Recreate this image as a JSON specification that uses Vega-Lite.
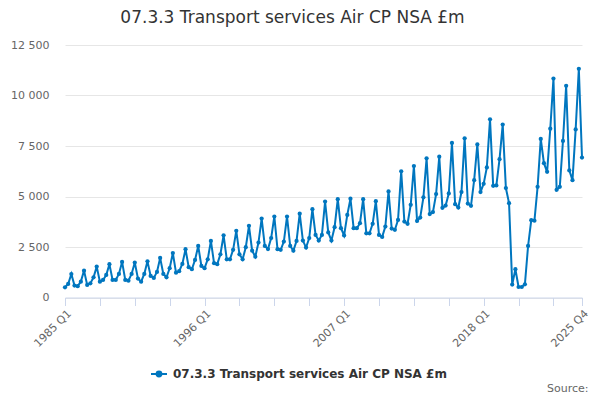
{
  "$schema": "https://vega.github.io/schema/vega-lite/v6.json",
  "autosize": "none",
  "width": 517,
  "height": 252.5,
  "padding": {"left": 65, "top": 45, "right": 18, "bottom": 102.5},
  "background": "white",
  "title": {
    "text": "07.3.3 Transport services Air CP NSA £m",
    "font": "DejaVu Sans",
    "fontSize": 17,
    "fontWeight": "normal",
    "color": "#333333",
    "anchor": "middle",
    "dx": -31,
    "offset": 12
  },
  "config": {
    "view": {"stroke": null},
    "font": "DejaVu Sans"
  },
  "data": {
    "values": [
      {"period": "1985 Q1", "value": 505}, {"period": "1985 Q2", "value": 670}, {"period": "1985 Q3", "value": 1160}, {"period": "1985 Q4", "value": 590},
      {"period": "1986 Q1", "value": 560}, {"period": "1986 Q2", "value": 785}, {"period": "1986 Q3", "value": 1330}, {"period": "1986 Q4", "value": 620},
      {"period": "1987 Q1", "value": 700}, {"period": "1987 Q2", "value": 1000}, {"period": "1987 Q3", "value": 1530}, {"period": "1987 Q4", "value": 785},
      {"period": "1988 Q1", "value": 870}, {"period": "1988 Q2", "value": 1115}, {"period": "1988 Q3", "value": 1650}, {"period": "1988 Q4", "value": 870},
      {"period": "1989 Q1", "value": 870}, {"period": "1989 Q2", "value": 1165}, {"period": "1989 Q3", "value": 1760}, {"period": "1989 Q4", "value": 870},
      {"period": "1990 Q1", "value": 835}, {"period": "1990 Q2", "value": 1165}, {"period": "1990 Q3", "value": 1730}, {"period": "1990 Q4", "value": 935},
      {"period": "1991 Q1", "value": 785}, {"period": "1991 Q2", "value": 1165}, {"period": "1991 Q3", "value": 1790}, {"period": "1991 Q4", "value": 1070},
      {"period": "1992 Q1", "value": 970}, {"period": "1992 Q2", "value": 1265}, {"period": "1992 Q3", "value": 1960}, {"period": "1992 Q4", "value": 1165},
      {"period": "1993 Q1", "value": 1000}, {"period": "1993 Q2", "value": 1450}, {"period": "1993 Q3", "value": 2200}, {"period": "1993 Q4", "value": 1230},
      {"period": "1994 Q1", "value": 1300}, {"period": "1994 Q2", "value": 1660}, {"period": "1994 Q3", "value": 2390}, {"period": "1994 Q4", "value": 1500},
      {"period": "1995 Q1", "value": 1400}, {"period": "1995 Q2", "value": 1860}, {"period": "1995 Q3", "value": 2550}, {"period": "1995 Q4", "value": 1560},
      {"period": "1996 Q1", "value": 1450}, {"period": "1996 Q2", "value": 1890}, {"period": "1996 Q3", "value": 2800}, {"period": "1996 Q4", "value": 1700},
      {"period": "1997 Q1", "value": 1650}, {"period": "1997 Q2", "value": 2140}, {"period": "1997 Q3", "value": 3080}, {"period": "1997 Q4", "value": 1890},
      {"period": "1998 Q1", "value": 1890}, {"period": "1998 Q2", "value": 2360}, {"period": "1998 Q3", "value": 3300}, {"period": "1998 Q4", "value": 2140},
      {"period": "1999 Q1", "value": 1890}, {"period": "1999 Q2", "value": 2490}, {"period": "1999 Q3", "value": 3550}, {"period": "1999 Q4", "value": 2320},
      {"period": "2000 Q1", "value": 2020}, {"period": "2000 Q2", "value": 2720}, {"period": "2000 Q3", "value": 3910}, {"period": "2000 Q4", "value": 2550},
      {"period": "2001 Q1", "value": 2400}, {"period": "2001 Q2", "value": 2940}, {"period": "2001 Q3", "value": 4010}, {"period": "2001 Q4", "value": 2390},
      {"period": "2002 Q1", "value": 2360}, {"period": "2002 Q2", "value": 2770}, {"period": "2002 Q3", "value": 4010}, {"period": "2002 Q4", "value": 2550},
      {"period": "2003 Q1", "value": 2320}, {"period": "2003 Q2", "value": 2800}, {"period": "2003 Q3", "value": 4150}, {"period": "2003 Q4", "value": 2820},
      {"period": "2004 Q1", "value": 2470}, {"period": "2004 Q2", "value": 2940}, {"period": "2004 Q3", "value": 4370}, {"period": "2004 Q4", "value": 3100},
      {"period": "2005 Q1", "value": 2820}, {"period": "2005 Q2", "value": 3100}, {"period": "2005 Q3", "value": 4750}, {"period": "2005 Q4", "value": 3220},
      {"period": "2006 Q1", "value": 2820}, {"period": "2006 Q2", "value": 3480}, {"period": "2006 Q3", "value": 4870}, {"period": "2006 Q4", "value": 3430},
      {"period": "2007 Q1", "value": 3070}, {"period": "2007 Q2", "value": 4090}, {"period": "2007 Q3", "value": 4890}, {"period": "2007 Q4", "value": 3430},
      {"period": "2008 Q1", "value": 3430}, {"period": "2008 Q2", "value": 3680}, {"period": "2008 Q3", "value": 4870}, {"period": "2008 Q4", "value": 3180},
      {"period": "2009 Q1", "value": 3180}, {"period": "2009 Q2", "value": 3650}, {"period": "2009 Q3", "value": 4770}, {"period": "2009 Q4", "value": 3100},
      {"period": "2010 Q1", "value": 3000}, {"period": "2010 Q2", "value": 3510}, {"period": "2010 Q3", "value": 5250}, {"period": "2010 Q4", "value": 3410},
      {"period": "2011 Q1", "value": 3350}, {"period": "2011 Q2", "value": 3840}, {"period": "2011 Q3", "value": 6250}, {"period": "2011 Q4", "value": 3760},
      {"period": "2012 Q1", "value": 3650}, {"period": "2012 Q2", "value": 4590}, {"period": "2012 Q3", "value": 6510}, {"period": "2012 Q4", "value": 3790},
      {"period": "2013 Q1", "value": 3960}, {"period": "2013 Q2", "value": 4960}, {"period": "2013 Q3", "value": 6890}, {"period": "2013 Q4", "value": 4130},
      {"period": "2014 Q1", "value": 4230}, {"period": "2014 Q2", "value": 5120}, {"period": "2014 Q3", "value": 6970}, {"period": "2014 Q4", "value": 4440},
      {"period": "2015 Q1", "value": 4550}, {"period": "2015 Q2", "value": 5150}, {"period": "2015 Q3", "value": 7650}, {"period": "2015 Q4", "value": 4620},
      {"period": "2016 Q1", "value": 4450}, {"period": "2016 Q2", "value": 5220}, {"period": "2016 Q3", "value": 7880}, {"period": "2016 Q4", "value": 4650},
      {"period": "2017 Q1", "value": 4540}, {"period": "2017 Q2", "value": 5810}, {"period": "2017 Q3", "value": 7580}, {"period": "2017 Q4", "value": 5220},
      {"period": "2018 Q1", "value": 5630}, {"period": "2018 Q2", "value": 6440}, {"period": "2018 Q3", "value": 8820}, {"period": "2018 Q4", "value": 5530},
      {"period": "2019 Q1", "value": 5550}, {"period": "2019 Q2", "value": 6850}, {"period": "2019 Q3", "value": 8560}, {"period": "2019 Q4", "value": 5420},
      {"period": "2020 Q1", "value": 4670}, {"period": "2020 Q2", "value": 640}, {"period": "2020 Q3", "value": 1400}, {"period": "2020 Q4", "value": 520},
      {"period": "2021 Q1", "value": 520}, {"period": "2021 Q2", "value": 650}, {"period": "2021 Q3", "value": 2550}, {"period": "2021 Q4", "value": 3830},
      {"period": "2022 Q1", "value": 3800}, {"period": "2022 Q2", "value": 5480}, {"period": "2022 Q3", "value": 7850}, {"period": "2022 Q4", "value": 6650},
      {"period": "2023 Q1", "value": 6220}, {"period": "2023 Q2", "value": 8360}, {"period": "2023 Q3", "value": 10840}, {"period": "2023 Q4", "value": 5330},
      {"period": "2024 Q1", "value": 5480}, {"period": "2024 Q2", "value": 7750}, {"period": "2024 Q3", "value": 10480}, {"period": "2024 Q4", "value": 6290},
      {"period": "2025 Q1", "value": 5810}, {"period": "2025 Q2", "value": 8320}, {"period": "2025 Q3", "value": 11320}, {"period": "2025 Q4", "value": 6930}
    ]
  },
  "mark": {
    "type": "line",
    "strokeWidth": 2,
    "point": {"filled": true, "size": 18}
  },
  "encoding": {
    "x": {
      "field": "period",
      "type": "ordinal",
      "sort": null,
      "scale": {"type": "point", "padding": 0},
      "axis": {
        "values": ["1985 Q1", "1987 Q4", "1990 Q3", "1993 Q2", "1996 Q1", "1998 Q4", "2001 Q3", "2004 Q2", "2007 Q1", "2009 Q4", "2012 Q3", "2015 Q2", "2018 Q1", "2020 Q4", "2023 Q3", "2025 Q4"],
        "labelExpr": "indexof(['1985 Q1','1996 Q1','2007 Q1','2018 Q1','2025 Q4'], datum.value) >= 0 ? datum.value : ''",
        "labelAngle": -45,
        "labelFontSize": 11,
        "labelColor": "#666666",
        "labelPadding": 2,
        "tickSize": 8,
        "tickColor": "#ccd6eb",
        "domainColor": "#ccd6eb",
        "grid": false,
        "title": "Source:",
        "titleFontSize": 11,
        "titleFontWeight": "normal",
        "titleColor": "#666666",
        "titleAlign": "right",
        "titleBaseline": "alphabetic",
        "titleAnchor": "end",
        "titleX": 523,
        "titleY": 94
      }
    },
    "y": {
      "field": "value",
      "type": "quantitative",
      "scale": {"domain": [0, 12500]},
      "axis": {
        "values": [0, 2500, 5000, 7500, 10000, 12500],
        "labelExpr": "replace(format(datum.value, ','), ',', ' ')",
        "labelFontSize": 11,
        "labelColor": "#666666",
        "labelPadding": 16,
        "ticks": false,
        "domain": false,
        "grid": true,
        "gridColor": "#e6e6e6",
        "title": null
      }
    },
    "color": {
      "datum": "07.3.3 Transport services Air CP NSA £m",
      "type": "nominal",
      "scale": {"range": ["#0076bf"]},
      "legend": {
        "orient": "none",
        "legendX": 85,
        "legendY": 320,
        "padding": 0,
        "title": null,
        "labelFontSize": 12,
        "labelFontWeight": "bold",
        "labelColor": "#333333",
        "labelOffset": 5,
        "labelLimit": 0,
        "symbolType": "M-1,0H1M-0.3,0A0.3,0.3,0,1,1,0.3,0A0.3,0.3,0,1,1,-0.3,0",
        "symbolSize": 256,
        "symbolStrokeWidth": 2,
        "symbolStrokeColor": "#0076bf",
        "symbolFillColor": "#0076bf"
      }
    }
  }
}
